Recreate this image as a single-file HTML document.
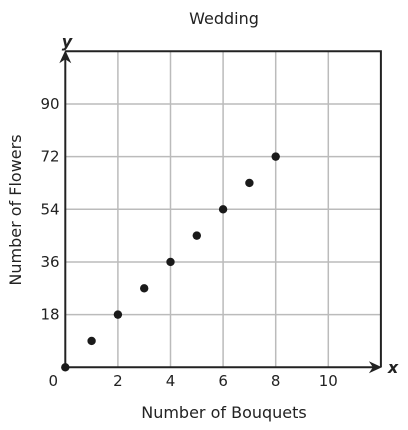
<!DOCTYPE html>
<html><head><meta charset="utf-8"><style>
body{margin:0;background:#fff;width:408px;height:430px;overflow:hidden}
svg{display:block;font-family:"DejaVu Sans","Liberation Sans",sans-serif}
</style></head><body>
<svg id="chart" width="408" height="430">
<text x="224" y="24" text-anchor="middle" font-size="16" fill="#222">Wedding</text>
<g id="grid"></g>
<g id="ticks"></g>
<g id="points"></g>
<text x="224" y="418" text-anchor="middle" font-size="16" fill="#222">Number of Bouquets</text>
<text transform="translate(21,210) rotate(-90)" text-anchor="middle" font-size="16" fill="#222">Number of Flowers</text>
<text x="393" y="373" text-anchor="middle" font-size="16" font-weight="bold" font-style="italic" fill="#222">x</text>
<text x="67" y="47" text-anchor="middle" font-size="16" font-weight="bold" font-style="italic" fill="#222">y</text>
</svg>
<script>
const xTicks=[0,2,4,6,8,10];
const yTicks=[18,36,54,72,90];
const bouquets=[0,1,2,3,4,5,6,7,8];
const flowers=[0,9,18,27,36,45,54,63,72];
const X0=65.3,Y0=367.3,XU=26.3,YU=2.926,XMAX=12,YMAX=108;
const sx=v=>X0+v*XU, sy=v=>Y0-v*YU;
const NS="http://www.w3.org/2000/svg";
function mk(tag,attrs,parent){const e=document.createElementNS(NS,tag);for(const k in attrs)e.setAttribute(k,attrs[k]);parent.appendChild(e);return e;}
const grid=document.getElementById('grid'),ticks=document.getElementById('ticks'),pts=document.getElementById('points');
for(let v=2;v<XMAX;v+=2){const l=mk('line',{x1:sx(v),x2:sx(v),y1:sy(0),y2:sy(YMAX),stroke:'#bbb','stroke-width':1.5},grid);

}
for(let v=18;v<YMAX;v+=18){const l=mk('line',{x1:sx(0),x2:sx(XMAX),y1:sy(v),y2:sy(v),stroke:'#bbb','stroke-width':1.5},grid);

}
const border=mk('path',{d:`M${sx(0)},${sy(YMAX)} H${sx(XMAX)} V${sy(0)}`,fill:'none',stroke:'#222','stroke-width':2},grid);


const xa=mk('line',{x1:sx(0),x2:sx(XMAX)-4,y1:sy(0),y2:sy(0),stroke:'#222','stroke-width':2},grid);


const xh=mk('path',{d:`M${sx(XMAX)+1},${sy(0)} l-13,-6 l4,6 l-4,6 z`,fill:'#222'},grid);


const ya=mk('line',{x1:sx(0),x2:sx(0),y1:sy(0),y2:sy(YMAX)+4,stroke:'#222','stroke-width':2},grid);


const yh=mk('path',{d:`M${sx(0)},${sy(YMAX)-1} l-6,13 l6,-4 l6,4 z`,fill:'#222'},grid);


xTicks.forEach(v=>{const t=mk('text',{x:v===0?sx(v)-12:sx(v),y:386,'text-anchor':'middle','font-size':15,fill:'#222'},ticks);t.textContent=v;

});
yTicks.forEach(v=>{const t=mk('text',{x:50,y:sy(v)+5,'text-anchor':'middle','font-size':15,fill:'#222'},ticks);t.textContent=v;

});
bouquets.forEach((b,i)=>{const c=mk('circle',{cx:sx(b),cy:sy(flowers[i]),r:4.2,fill:'#1a1a1a'},pts);

});
</script>
</body></html>
